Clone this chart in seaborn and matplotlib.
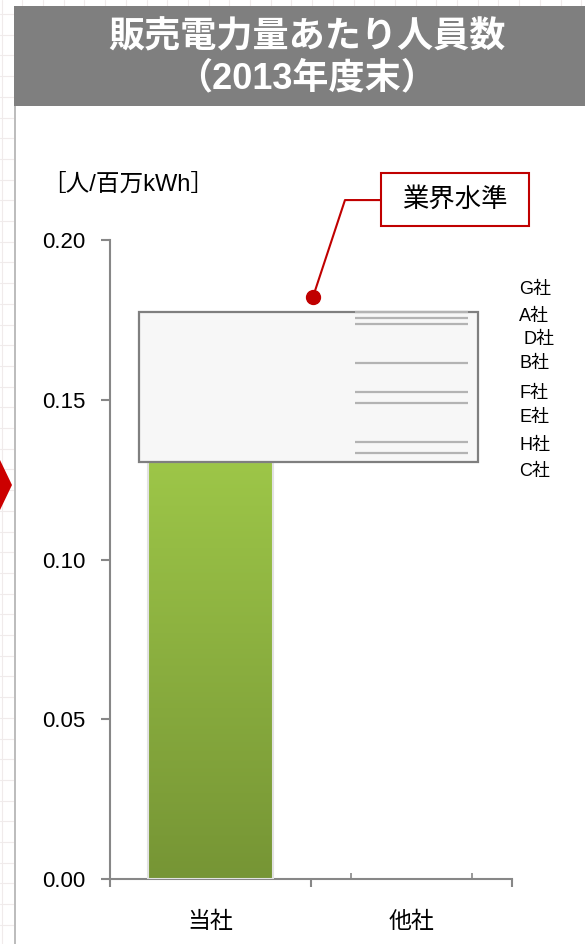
import numpy as np
import pandas as pd
import matplotlib
import matplotlib.pyplot as plt
import seaborn as sns
from matplotlib.patches import Rectangle, Polygon
from matplotlib.colors import LinearSegmentedColormap

sns.set_style('white')
plt.rcParams['font.family'] = ['Liberation Sans', 'Noto Sans CJK JP']
plt.rcParams['text.color'] = 'black'
plt.rcParams['xtick.labelcolor'] = 'black'
plt.rcParams['ytick.labelcolor'] = 'black'

CATEGORIES = ['当社', '他社']
OWN_VALUE = 0.1305
COMPANIES = ['G社', 'A社', 'D社', 'B社', 'F社', 'E社', 'H社', 'C社']
COMPANY_VALUES = [0.1776, 0.1756, 0.1737, 0.1615, 0.1524, 0.1490, 0.1368, 0.1333]
# label positions are spread out so they do not overlap
LABEL_Y = [0.1844, 0.1759, 0.1690, 0.1612, 0.1521, 0.1443, 0.1358, 0.1274]
Y_TICKS = [0.00, 0.05, 0.10, 0.15, 0.20]

AXIS_GRAY = '#878787'
RED = '#c00000'

W, H = 585, 944
fig = plt.figure(figsize=(W / 100, H / 100), dpi=100)

# page background: grid paper, white panel, grey title bar
bg = fig.add_axes([0, 0, 1, 1], zorder=-5)
bg.set_xlim(0, W)
bg.set_ylim(H, 0)
bg.axis('off')
for gx in np.arange(1.6, W, 20.7):
    bg.axvline(gx, color='#f0ebeb', lw=0.8, zorder=0)
for gy in np.arange(14, H, 20.7):
    bg.axhline(gy, color='#f0ebeb', lw=0.8, zorder=0)
bg.add_patch(Rectangle((14, 106), W - 14, H - 106, fc='white', ec='none', zorder=1))
bg.plot([14.5, 14.5], [106, H], color='#b0b0b0', lw=1.2, zorder=2)
bg.add_patch(Rectangle((14, 6), W - 14, 100, fc='#7f7f7f', ec='none', zorder=2))
bg.add_patch(Polygon([(0, 460), (12, 485), (0, 510)], fc='#cc0000', ec='none', zorder=2))

fig.text(0.524, 1 - 38 / H, '販売電力量あたり人員数', color='white', fontsize=26,
         fontweight='bold', ha='center', va='center')
fig.text(0.524, 1 - 79 / H, '（2013年度末）', color='white', fontsize=26,
         fontweight='bold', ha='center', va='center')
fig.text(42 / W, 1 - 185 / H, '［人/百万kWh］', fontsize=17, ha='left', va='center')

ax = fig.add_axes([110 / W, 1 - 879 / H, 402 / W, 639 / H])
df = pd.DataFrame({'cat': CATEGORIES, 'value': [OWN_VALUE, np.nan]})
sns.barplot(data=df, x='cat', y='value', order=CATEGORIES, width=0.62,
            color='#8db340', ax=ax, zorder=2)

# gradient fill on the bar
bar = ax.patches[0]
x0, bw, bh = bar.get_x(), bar.get_width(), bar.get_height()
cmap = LinearSegmentedColormap.from_list('grn', ['#769535', '#9dc648'])
grad = np.linspace(0, 1, 256).reshape(-1, 1)
img = ax.imshow(grad, extent=[x0, x0 + bw, 0, bh], origin='lower', aspect='auto',
                cmap=cmap, zorder=2.5)
img.set_clip_path(bar)
bar.set_facecolor('none')
bar.set_edgecolor('#e2e2e2')
bar.set_linewidth(1.5)
bar.set_zorder(2.6)

# industry range box
all_vals = [OWN_VALUE] + COMPANY_VALUES
lo, hi = min(all_vals), max(all_vals)
ax.add_patch(Rectangle((-0.355, lo), 1.686, hi - lo, fc='#f7f7f7', ec='#7f7f7f',
                       lw=1.6, zorder=3))
ax.hlines(COMPANY_VALUES, 0.72, 1.28, color='#b3b3b3', lw=1.6, zorder=4)
for name, ly in zip(COMPANIES, LABEL_Y):
    dx = 0.02 if name == 'D社' else 0.0
    ax.text(1.535 + dx, ly, name, fontsize=13, ha='left', va='center')

# callout
ax.plot([0.51, 0.669, 0.848], [0.1822, 0.2125, 0.2125], color=RED, lw=1.5,
        clip_on=False, zorder=5)
ax.plot([0.51], [0.1822], 'o', color=RED, ms=10, clip_on=False, zorder=6)
ax.add_patch(Rectangle((0.848, 0.2044), 0.737, 0.0166, fc='white', ec=RED,
                       lw=1.5, clip_on=False, zorder=5))
ax.text(1.216, 0.2127, '業界水準', fontsize=19, ha='center', va='center', zorder=6)

ax.set_xlim(-0.5, 1.5)
ax.set_ylim(0, 0.20)
ax.set_yticks(Y_TICKS)
ax.set_yticklabels([f'{v:.2f}' for v in Y_TICKS])
ax.set_xticks([0, 1])
ax.set_xticklabels(CATEGORIES)
ax.set_xticks([-0.5, 0.5, 1.5], minor=True)
ax.set_xlabel('')
ax.set_ylabel('')
ax.tick_params(axis='x', which='major', length=0, pad=22, labelsize=16.5,
               labelcolor='black')
ax.tick_params(axis='x', which='minor', length=6, width=1.5, color=AXIS_GRAY,
               direction='out', bottom=True)
ax.tick_params(axis='y', length=6.5, width=1.5, color=AXIS_GRAY, direction='out',
               left=True, pad=11, labelsize=16, labelcolor='black')

sec = ax.secondary_xaxis('bottom')
sec.set_xticks([0.7, 1.3])
sec.tick_params(direction='in', length=4, width=1.2, color=AXIS_GRAY, labelbottom=False)
sec.spines['bottom'].set_visible(False)

for side in ['top', 'right']:
    ax.spines[side].set_visible(False)
for side in ['left', 'bottom']:
    ax.spines[side].set_color(AXIS_GRAY)
    ax.spines[side].set_linewidth(1.5)
ax.set_facecolor('none')

fig.savefig('out.png', dpi=100)
